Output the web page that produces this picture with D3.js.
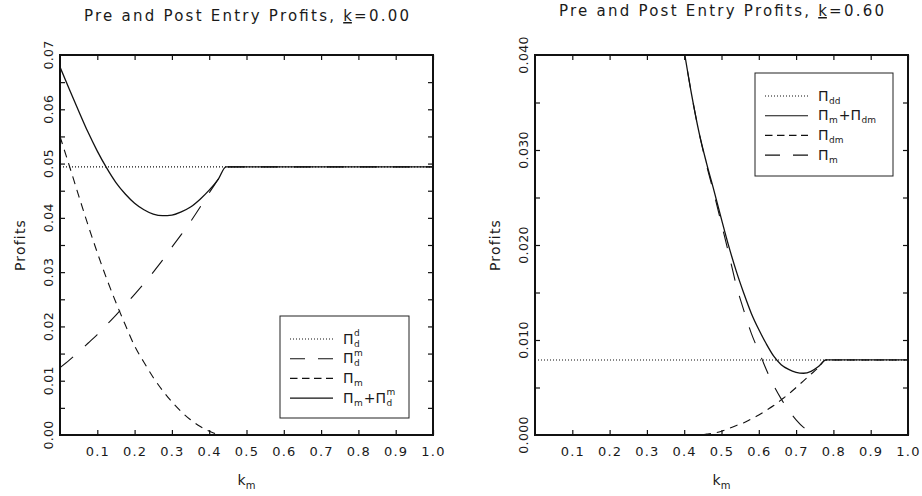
<!DOCTYPE html>
<html>
<head>
<meta charset="utf-8">
<script src="https://cdn.jsdelivr.net/npm/d3@7"></script>
<style>
  body { margin: 0; background: #fff; }
  svg text { font-family: "DejaVu Sans", sans-serif; fill: #1a1a1a; }
</style>
</head>
<body>
<svg id="vis" width="922" height="496"></svg>
<script>
// ---- data ----
// left panel, k = 0.00
const kmLeft = [0, 0.025, 0.05, 0.075, 0.1, 0.125, 0.15, 0.175, 0.2, 0.225, 0.25, 0.275,
  0.3, 0.325, 0.35, 0.375, 0.4, 0.425, 0.445, 0.5, 0.6, 0.7, 0.8, 0.9, 1.0]
const piDDLeft = [0.0494, 0.0494, 0.0494, 0.0494, 0.0494, 0.0494, 0.0494, 0.0494, 0.0494,
  0.0494, 0.0494, 0.0494, 0.0494, 0.0494, 0.0494, 0.0494, 0.0494, 0.0494, 0.0494, 0.0494,
  0.0494, 0.0494, 0.0494, 0.0494, 0.0494]
const piDMLeft = [0.0124, 0.0138, 0.0153, 0.0169, 0.0185, 0.0203, 0.0221, 0.0240, 0.0259,
  0.0279, 0.0300, 0.0322, 0.0346, 0.0369, 0.0393, 0.0419, 0.0446, 0.0472, 0.0494, 0.0494,
  0.0494, 0.0494, 0.0494, 0.0494, 0.0494]
const piMLeft = [0.0550, 0.0496, 0.0441, 0.0387, 0.0336, 0.0288, 0.0244, 0.0203, 0.0164,
  0.0134, 0.0106, 0.0082, 0.0061, 0.0043, 0.0028, 0.0016, 0.0007, 0.0001, 0, 0,
  0, 0, 0, 0, 0]
const piSumLeft = [0.0678, 0.0637, 0.0597, 0.0558, 0.0523, 0.0492, 0.0465, 0.0444, 0.0427,
  0.0415, 0.0407, 0.0404, 0.0405, 0.0411, 0.0420, 0.0434, 0.0451, 0.0472, 0.0494, 0.0494,
  0.0494, 0.0494, 0.0494, 0.0494, 0.0494]

// right panel, k = 0.60 (null = above the top of the plot)
const kmRight = [0, 0.1, 0.2, 0.3, 0.38, 0.40, 0.42, 0.44, 0.46, 0.48, 0.50, 0.52, 0.54,
  0.56, 0.58, 0.60, 0.62, 0.64, 0.66, 0.68, 0.70, 0.72, 0.74, 0.76, 0.78, 0.8, 0.9, 1.0]
const piDDRight = [0.0079, 0.0079, 0.0079, 0.0079, 0.0079, 0.0079, 0.0079, 0.0079, 0.0079,
  0.0079, 0.0079, 0.0079, 0.0079, 0.0079, 0.0079, 0.0079, 0.0079, 0.0079, 0.0079, 0.0079,
  0.0079, 0.0079, 0.0079, 0.0079, 0.0079, 0.0079, 0.0079, 0.0079]
const piSumRight = [null, null, null, null, 0.0452, 0.0404, 0.0358, 0.0318, 0.0286, 0.0257,
  0.0227, 0.0198, 0.0172, 0.0149, 0.0128, 0.0111, 0.0096, 0.0083, 0.0074, 0.0069, 0.0066,
  0.0065, 0.0067, 0.0072, 0.0079, 0.0079, 0.0079, 0.0079]
const piDMRight = [0, 0, 0, 0, 0, 0, 0, 0, 0.0001, 0.0002, 0.0004, 0.0007, 0.0010, 0.0013,
  0.0017, 0.0021, 0.0026, 0.0031, 0.0037, 0.0043, 0.0050, 0.0057, 0.0064, 0.0071, 0.0079,
  0.0079, 0.0079, 0.0079]
const piMRight = [null, null, null, null, 0.0452, 0.0404, 0.0358, 0.0318, 0.0284, 0.0254,
  0.0222, 0.0190, 0.0157, 0.0131, 0.0107, 0.0088, 0.0069, 0.0052, 0.0038, 0.0026, 0.0016,
  0.0008, 0.0003, 0, 0, 0, 0, 0]

// ticks
const xTicks = [0.1, 0.2, 0.3, 0.4, 0.5, 0.6, 0.7, 0.8, 0.9, 1.0]
const yMinorLeft = [0.005, 0.01, 0.015, 0.02, 0.025, 0.03, 0.035, 0.04, 0.045, 0.05, 0.055, 0.06, 0.065]
const yLabelsLeft = [0, 0.01, 0.02, 0.03, 0.04, 0.05, 0.06, 0.07]
const yMinorRight = [0.005, 0.01, 0.015, 0.02, 0.025, 0.03, 0.035]
const yLabelsRight = [0, 0.01, 0.02, 0.03, 0.04]

const dotted = "1,2", longDash = "17,16", shortDash = "8,6"

const svg = d3.select("#vis")
const plotTop = 55, plotBottom = 435

// label made of pieces: plain text, or a stacked sup/sub pair
function richLabel(g, x, y, parts) {
  let cx = x
  parts.forEach(p => {
    if (p.t) {
      const t = g.append("text").attr("x", cx).attr("y", y).style("font-size", "14px").text(p.t)
      cx += t.node().getComputedTextLength()
    } else {
      let w = 0
      if (p.sup) {
        const t = g.append("text").attr("x", cx + 0.5).attr("y", y - 7.5).style("font-size", "9px").text(p.sup)
        w = Math.max(w, t.node().getComputedTextLength())
      }
      if (p.sub) {
        const t = g.append("text").attr("x", cx + 0.5).attr("y", y + 3).style("font-size", "9px").text(p.sub)
        w = Math.max(w, t.node().getComputedTextLength())
      }
      cx += w + 1.5
    }
  })
}

function drawPanel(o) {
  const x = d3.scaleLinear().domain([0, 1]).range([o.left, o.right])
  const y = d3.scaleLinear().domain([0, o.yMax]).range([plotBottom, plotTop])
  const g = svg.append("g")
  const mid = (o.left + o.right) / 2

  // title
  const title = g.append("text")
    .attr("x", mid).attr("y", o.titleY)
    .attr("text-anchor", "middle")
    .attr("textLength", 325).attr("lengthAdjust", "spacing")
    .style("font-size", "15px")
  title.append("tspan").text("Pre and Post Entry Profits, ")
  title.append("tspan").style("text-decoration", "underline").text("k")
  title.append("tspan").text(o.kText)

  // curves
  const clipId = "clip" + o.left
  svg.append("clipPath").attr("id", clipId)
    .append("rect").attr("x", o.left).attr("y", plotTop)
    .attr("width", o.right - o.left).attr("height", plotBottom - plotTop)
  const line = d3.line()
    .defined(d => d[1] != null)
    .x(d => x(d[0])).y(d => y(d[1]))
    .curve(d3.curveMonotoneX)
  o.series.forEach(s => {
    g.append("path")
      .datum(o.km.map((k, i) => [k, s.vals[i]]))
      .attr("clip-path", `url(#${clipId})`)
      .attr("fill", "none")
      .attr("stroke", "#111")
      .attr("stroke-width", s.dash ? 1.1 : 1.3)
      .attr("stroke-dasharray", s.dash)
      .attr("d", line)
  })

  // ticks (inward) on all four sides
  const bx = g.append("g").attr("transform", `translate(0,${plotBottom})`)
    .call(d3.axisBottom(x).tickValues(xTicks).tickSize(-5).tickPadding(12).tickFormat(d3.format(".1f")))
  bx.selectAll("text").style("font-size", "13px").style("letter-spacing", "1.2px")
  g.append("g").attr("transform", `translate(0,${plotTop})`)
    .call(d3.axisTop(x).tickValues(xTicks).tickSize(-5).tickFormat(""))
  g.append("g").attr("transform", `translate(${o.left},0)`)
    .call(d3.axisLeft(y).tickValues(o.yMinor).tickSize(-5).tickFormat(""))
  g.append("g").attr("transform", `translate(${o.right},0)`)
    .call(d3.axisRight(y).tickValues(o.yMinor).tickSize(-5).tickFormat(""))
  g.selectAll(".domain").remove()
  g.selectAll(".tick line").attr("stroke", "#111").attr("stroke-width", 1.2)

  // rotated y labels
  g.selectAll(".ylab").data(o.yLabels).join("text")
    .attr("transform", d => `translate(${o.left - 7},${y(d)}) rotate(-90)`)
    .attr("text-anchor", "middle")
    .style("font-size", "12.5px").style("letter-spacing", "0.3px")
    .text(d => d3.format(o.yFmt)(d))

  g.append("text")
    .attr("transform", `translate(${o.left - 35},${(plotTop + plotBottom) / 2}) rotate(-90)`)
    .attr("text-anchor", "middle")
    .style("font-size", "14px").style("letter-spacing", "1.2px")
    .text("Profits")

  const xl = g.append("text").attr("x", mid).attr("y", 485).attr("text-anchor", "middle").style("font-size", "14px")
  xl.append("tspan").text("k")
  xl.append("tspan").attr("dy", 4).style("font-size", "10px").text("m")

  // frame
  g.append("rect")
    .attr("x", o.left).attr("y", plotTop)
    .attr("width", o.right - o.left).attr("height", plotBottom - plotTop)
    .attr("fill", "none").attr("stroke", "#111").attr("stroke-width", 2)

  // legend
  const L = o.legend
  const lg = g.append("g")
  lg.append("rect").attr("x", L.x).attr("y", L.y).attr("width", L.w).attr("height", L.h)
    .attr("fill", "#fff").attr("stroke", "#222").attr("stroke-width", 1)
  L.items.forEach((it, i) => {
    const ry = L.y + 23 + i * 19.7
    lg.append("line")
      .attr("x1", L.x + 10).attr("x2", L.x + 53).attr("y1", ry).attr("y2", ry)
      .attr("stroke", "#111").attr("stroke-width", 1.1)
      .attr("stroke-dasharray", it.dash === longDash ? "15,13" : it.dash === shortDash ? "7.5,4.5" : it.dash)
    richLabel(lg, L.x + 63, ry + 4.5, it.parts)
  })
}

drawPanel({
  left: 60, right: 433, titleY: 21, kText: "=0.00",
  yMax: 0.07, yMinor: yMinorLeft, yLabels: yLabelsLeft, yFmt: ".2f",
  km: kmLeft,
  series: [
    { vals: piDDLeft, dash: dotted },
    { vals: piDMLeft, dash: longDash },
    { vals: piMLeft, dash: shortDash },
    { vals: piSumLeft, dash: null }
  ],
  legend: {
    x: 280, y: 316, w: 129, h: 102,
    items: [
      { dash: dotted, parts: [{ t: "Π" }, { sup: "d", sub: "d" }] },
      { dash: longDash, parts: [{ t: "Π" }, { sup: "m", sub: "d" }] },
      { dash: shortDash, parts: [{ t: "Π" }, { sub: "m" }] },
      { dash: null, parts: [{ t: "Π" }, { sub: "m" }, { t: "+Π" }, { sup: "m", sub: "d" }] }
    ]
  }
})

drawPanel({
  left: 535, right: 908, titleY: 16, kText: "=0.60",
  yMax: 0.04, yMinor: yMinorRight, yLabels: yLabelsRight, yFmt: ".3f",
  km: kmRight,
  series: [
    { vals: piDDRight, dash: dotted },
    { vals: piSumRight, dash: null },
    { vals: piDMRight, dash: shortDash },
    { vals: piMRight, dash: longDash }
  ],
  legend: {
    x: 755, y: 73, w: 138, h: 103,
    items: [
      { dash: dotted, parts: [{ t: "Π" }, { sub: "dd" }] },
      { dash: null, parts: [{ t: "Π" }, { sub: "m" }, { t: "+Π" }, { sub: "dm" }] },
      { dash: shortDash, parts: [{ t: "Π" }, { sub: "dm" }] },
      { dash: longDash, parts: [{ t: "Π" }, { sub: "m" }] }
    ]
  }
})
</script>
</body>
</html>
